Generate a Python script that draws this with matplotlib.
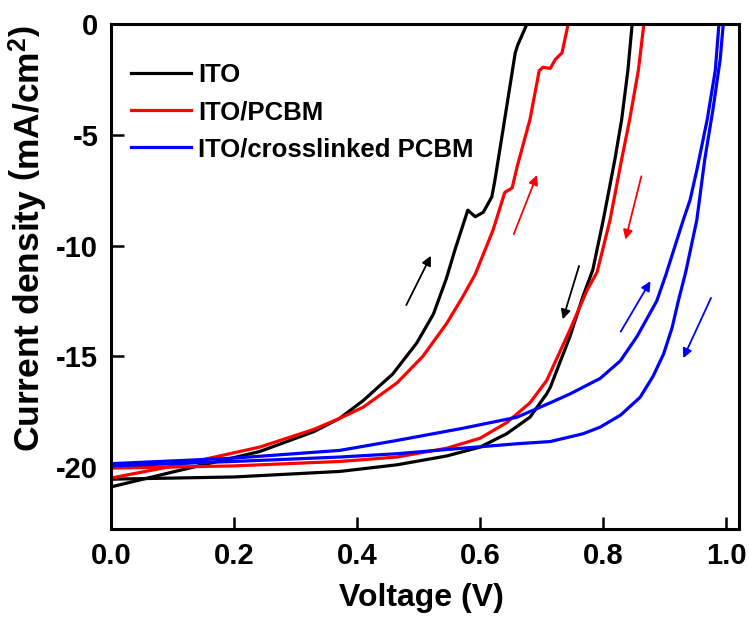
import matplotlib
matplotlib.use("Agg")
import matplotlib.pyplot as plt

plt.rcParams['font.family'] = ['Liberation Sans', 'DejaVu Sans']
plt.rcParams['font.weight'] = 'bold'
plt.rcParams['axes.unicode_minus'] = False
plt.rcParams['mathtext.fontset'] = 'custom'
plt.rcParams['mathtext.bf'] = 'Liberation Sans:bold'
plt.rcParams['mathtext.rm'] = 'Liberation Sans:bold'
plt.rcParams['mathtext.default'] = 'bf'

# ITO
ito_fwd_v = [0.0, 0.112, 0.242, 0.33, 0.372, 0.41, 0.458, 0.497, 0.524, 0.545, 0.559,
             0.580, 0.592, 0.605, 0.619, 0.624, 0.637, 0.657, 0.661, 0.676, 0.68]
ito_fwd_j = [-20.9, -20.15, -19.3, -18.4, -17.8, -17.0, -15.8, -14.4, -13.1, -11.5, -10.2,
             -8.4, -8.7, -8.5, -7.8, -7.05, -4.8, -1.3, -0.95, 0.0, 0.3]
ito_rev_v = [0.0, 0.2, 0.372, 0.465, 0.546, 0.6, 0.643, 0.681, 0.708, 0.714, 0.746,
             0.767, 0.783, 0.80, 0.819, 0.830, 0.840, 0.847, 0.849]
ito_rev_j = [-20.55, -20.45, -20.2, -19.9, -19.5, -19.1, -18.5, -17.75, -16.7, -16.4, -14.1,
             -12.3, -11.1, -8.85, -6.1, -4.3, -2.1, 0.0, 0.3]

# ITO/PCBM
pcbm_fwd_v = [0.0, 0.112, 0.242, 0.33, 0.372, 0.41, 0.465, 0.507, 0.546, 0.572, 0.592,
              0.621, 0.640, 0.652, 0.660, 0.681, 0.696, 0.702, 0.714, 0.722, 0.733, 0.743, 0.745]
pcbm_fwd_j = [-20.5, -19.9, -19.1, -18.3, -17.8, -17.3, -16.2, -15.0, -13.5, -12.3, -11.3,
              -9.3, -7.6, -7.4, -6.45, -4.3, -2.1, -1.95, -2.0, -1.6, -1.3, 0.0, 0.3]
pcbm_rev_v = [0.0, 0.2, 0.372, 0.465, 0.546, 0.6, 0.643, 0.681, 0.708, 0.746, 0.774,
              0.790, 0.811, 0.830, 0.843, 0.857, 0.866, 0.868]
pcbm_rev_j = [-20.05, -19.95, -19.75, -19.55, -19.15, -18.7, -18.0, -17.1, -16.1, -13.8, -12.0,
              -11.2, -8.85, -6.1, -4.3, -2.1, 0.0, 0.3]

# ITO/crosslinked PCBM
xl_fwd_v = [0.0, 0.2, 0.372, 0.465, 0.572, 0.66, 0.714, 0.746, 0.795, 0.828, 0.855,
            0.873, 0.887, 0.902, 0.93, 0.941, 0.952, 0.969, 0.982, 0.988, 0.99]
xl_fwd_j = [-19.85, -19.6, -19.25, -18.8, -18.25, -17.75, -17.1, -16.7, -16.0, -15.2, -14.1,
            -13.2, -12.5, -11.3, -8.85, -7.95, -6.6, -4.3, -2.1, 0.0, 0.3]
xl_rev_v = [0.0, 0.2, 0.372, 0.465, 0.572, 0.66, 0.714, 0.767, 0.795, 0.828, 0.860, 0.881,
            0.898, 0.912, 0.922, 0.934, 0.952, 0.965, 0.978, 0.99, 0.995, 0.997]
xl_rev_j = [-19.95, -19.75, -19.55, -19.4, -19.15, -18.95, -18.85, -18.5, -18.2, -17.66, -16.85, -15.9,
            -14.9, -13.7, -12.5, -11.2, -8.85, -6.1, -3.9, -1.6, 0.0, 0.3]

labels = ['ITO', 'ITO/PCBM', 'ITO/crosslinked PCBM']
colors = ['black', '#ff0000', '#0000ff']

# scan direction arrows: (tail, head, colour)
arrows = [((0.478, -12.8), (0.522, -10.35), 'black'),
          ((0.653, -9.6), (0.694, -6.7), '#ff0000'),
          ((0.863, -6.75), (0.835, -9.85), '#ff0000'),
          ((0.762, -10.8), (0.733, -13.45), 'black'),
          ((0.826, -14.0), (0.879, -11.5), '#0000ff'),
          ((0.977, -12.25), (0.928, -15.2), '#0000ff')]

fig = plt.figure(figsize=(7.49, 6.18), dpi=100)
ax = fig.add_axes([0.148, 0.144, 0.839, 0.817])

curves = [(ito_fwd_v, ito_fwd_j, ito_rev_v, ito_rev_j),
          (pcbm_fwd_v, pcbm_fwd_j, pcbm_rev_v, pcbm_rev_j),
          (xl_fwd_v, xl_fwd_j, xl_rev_v, xl_rev_j)]
for (fv, fj, rv, rj), lab, c in zip(curves, labels, colors):
    ax.plot(fv, fj, color=c, lw=2.3, label=lab, solid_joinstyle='round')
    ax.plot(rv, rj, color=c, lw=2.3, solid_joinstyle='round')

for tail, head, c in arrows:
    ax.annotate('', xy=head, xytext=tail,
                arrowprops=dict(arrowstyle='-|>', color=c, lw=1.3, mutation_scale=14))

ax.set_xlim(0, 1.021)
ax.set_ylim(-22.8, 0)
ax.set_xticks([0.0, 0.2, 0.4, 0.6, 0.8, 1.0])
ax.set_yticks([0, -5, -10, -15, -20])
ax.set_xticklabels(['0.0', '0.2', '0.4', '0.6', '0.8', '1.0'])
ax.tick_params(direction='in', length=9, width=1.8, labelsize=21, pad=9)
for s in ax.spines.values():
    s.set_linewidth(2.2)

ax.set_xlabel('Voltage (V)', fontsize=23, fontweight='bold')
ax.set_ylabel(r'Current density $\left(\mathbf{mA/cm^2}\right)$', fontsize=25.5, fontweight='bold')
ax.xaxis.set_label_coords(0.495, -0.107)
ax.yaxis.set_label_coords(-0.097, 0.575)

ax.legend(loc='upper left', frameon=False, fontsize=18.5, handlelength=2.33,
          handletextpad=0.3, labelspacing=0.5, bbox_to_anchor=(-0.005, 0.968))

fig.savefig('out.png', dpi=100)
